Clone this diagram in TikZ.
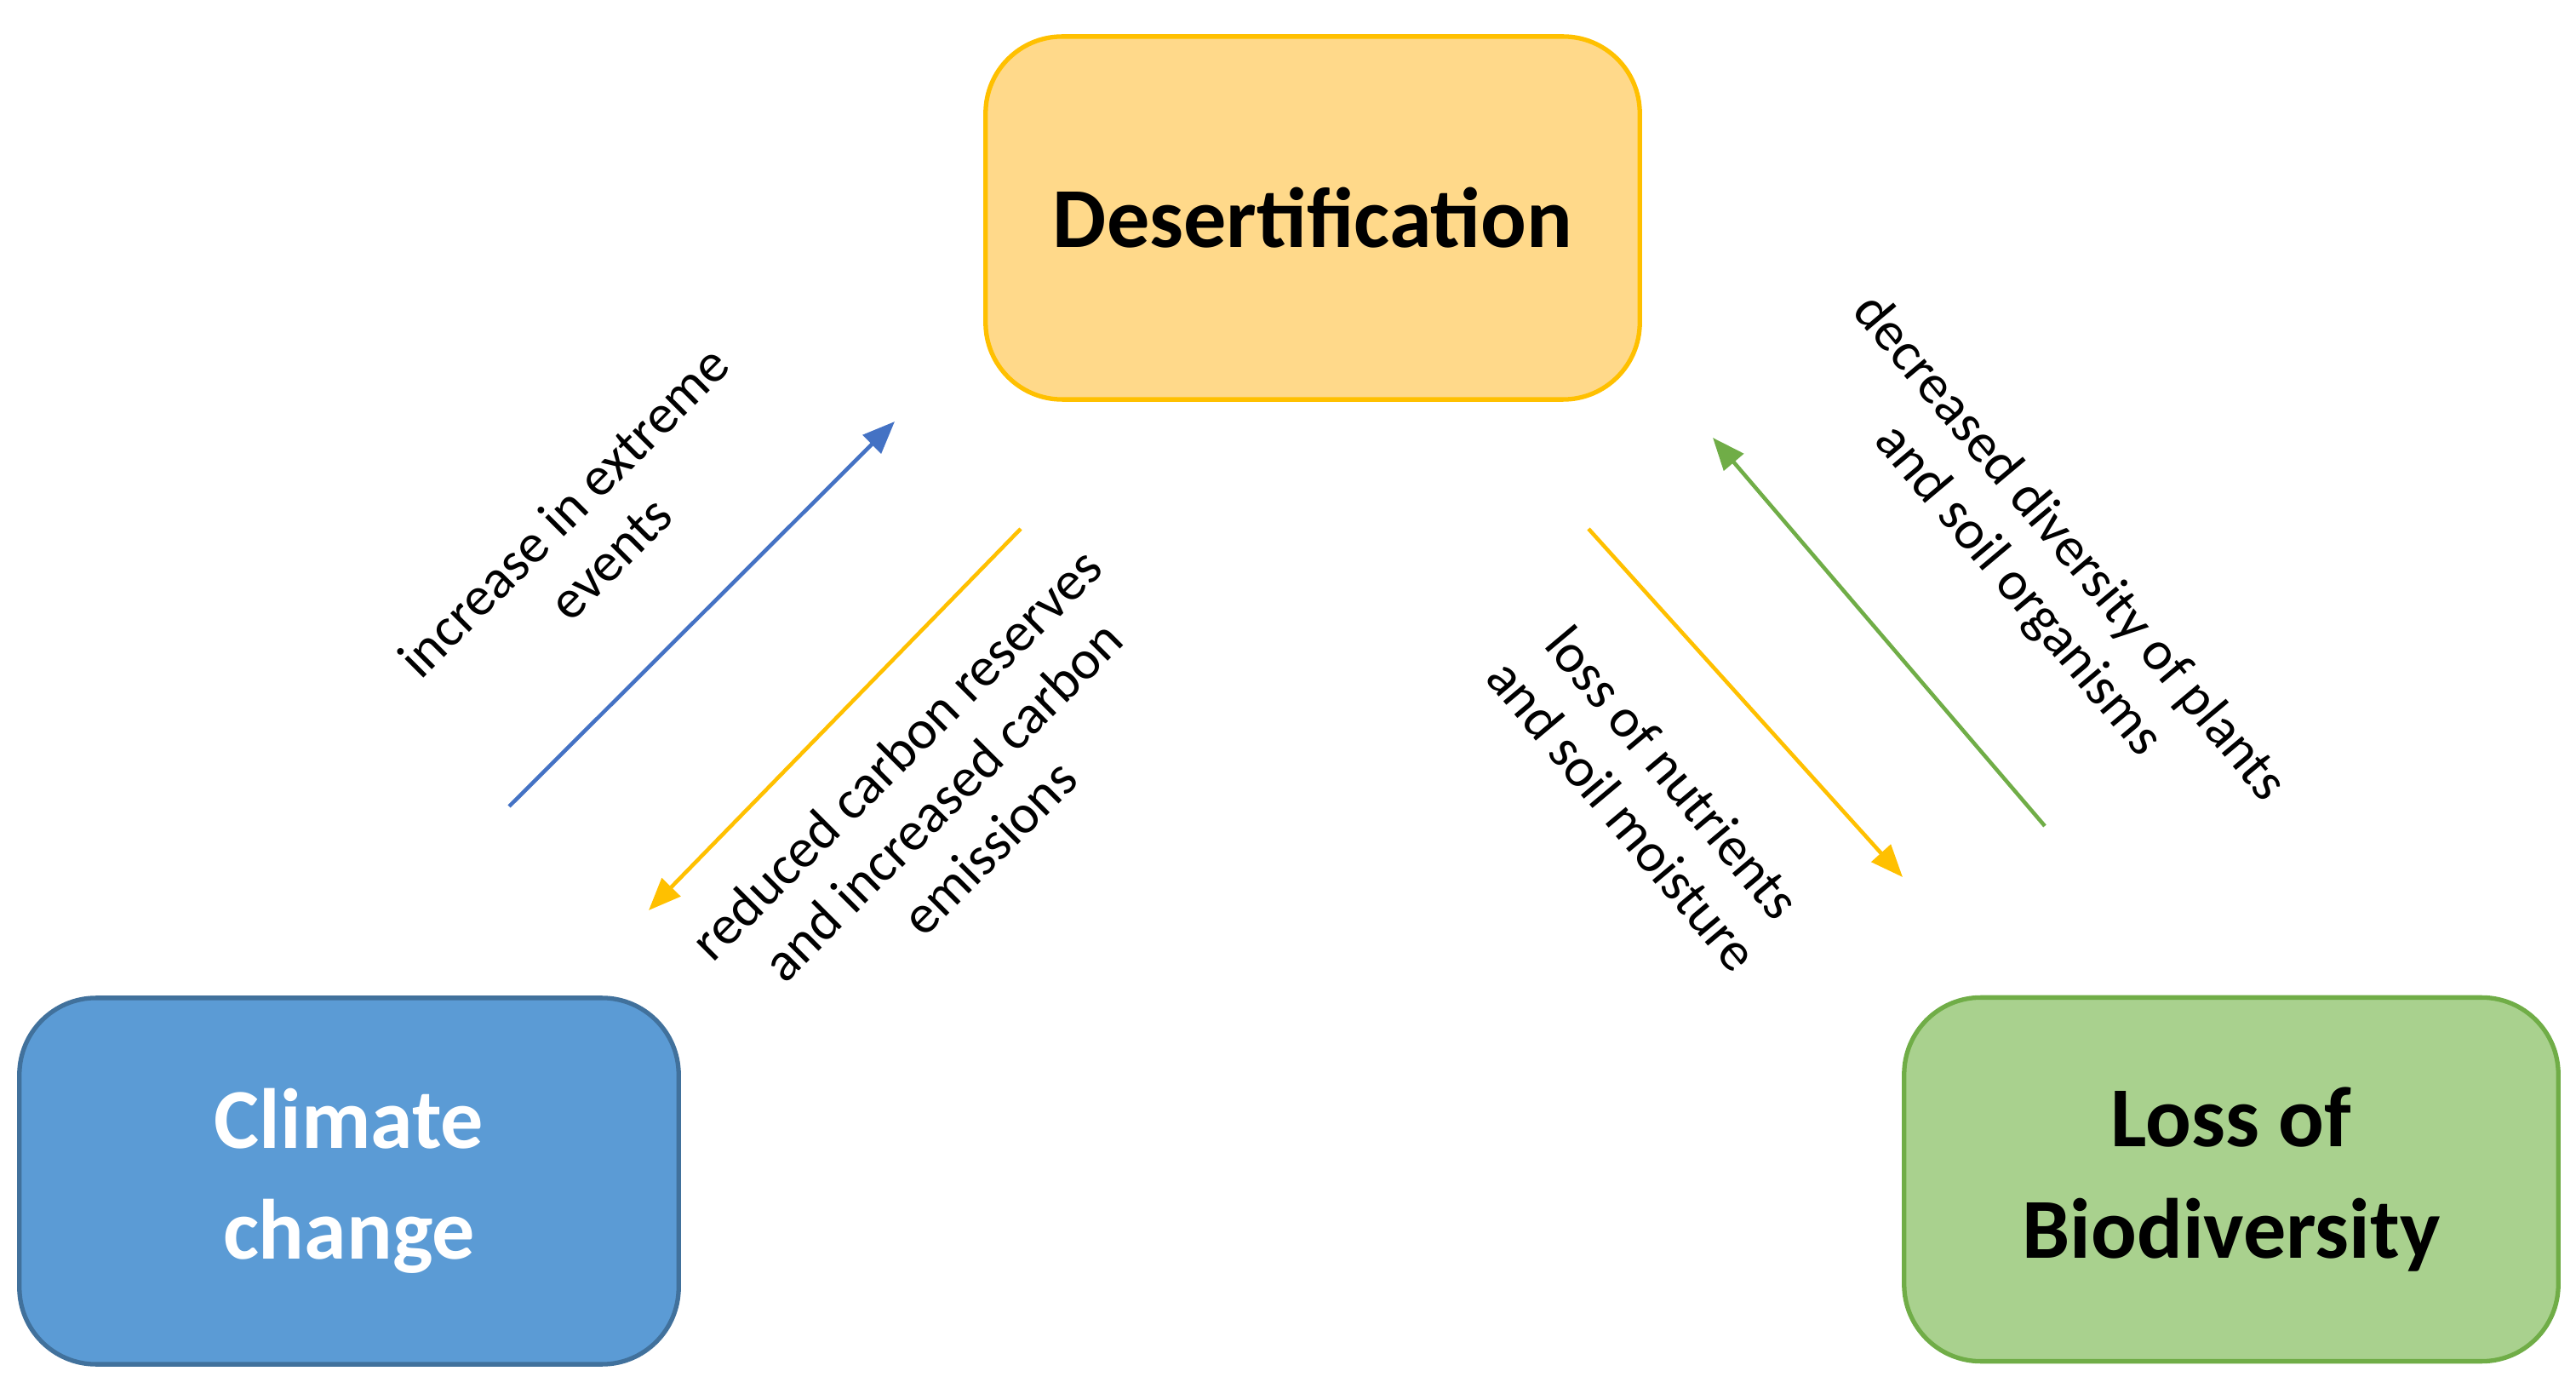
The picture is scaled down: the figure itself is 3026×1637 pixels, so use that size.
\documentclass[tikz,border=0pt]{standalone}
\usepackage{fontspec}
\setmainfont{Carlito}
\usetikzlibrary{arrows.meta}
\definecolor{ybox}{HTML}{FFD98A}
\definecolor{yline}{HTML}{FFC000}
\definecolor{bbox}{HTML}{5B9BD5}
\definecolor{bline}{HTML}{41719C}
\definecolor{gbox}{HTML}{A9D18E}
\definecolor{gline}{HTML}{70AD47}
\definecolor{barrow}{HTML}{4472C4}
\tikzset{
 box/.style={draw, line width=1.5pt, rounded corners=0.9cm, align=center, font=\fontsize{28.5}{37}\selectfont\bfseries},
 arr/.style={line width=1.3pt, -{Triangle[length=0.38cm,width=0.3cm]}},
 lab/.style={align=center, font=\fontsize{18.5}{22}\selectfont}
}
\begin{document}
\begin{tikzpicture}[x=0.01cm,y=-0.01cm]
\useasboundingbox (0,0) rectangle (3026,1637);
\node[box, fill=ybox, draw=yline, minimum width=7.68cm, minimum height=4.26cm] (d) at (1542,256) {Desertification};
\node[box, fill=bbox, draw=bline, text=white, minimum width=7.74cm, minimum height=4.3cm] (c) at (410,1387) {Climate\\change};
\node[box, fill=gbox, draw=gline, minimum width=7.68cm, minimum height=4.27cm] (l) at (2621,1385) {Loss of\\Biodiversity};
\coordinate (a1) at (598,947); \coordinate (a2) at (1051,495);
\coordinate (b1) at (1199,621); \coordinate (b2) at (762,1069);
\coordinate (c1) at (1866,621); \coordinate (c2) at (2235,1030);
\coordinate (d1) at (2402,970); \coordinate (d2) at (2012,514);
\draw[arr, draw=barrow, fill=barrow] (a1) -- (a2);
\draw[arr, draw=yline, fill=yline] (b1) -- (b2);
\draw[arr, draw=yline, fill=yline] (c1) -- (c2);
\draw[arr, draw=gline, fill=gline] (d1) -- (d2);
\node[lab, rotate=45] (t1) at (689,628) {increase in extreme\\events};
\node[lab, rotate=45] (t2) at (1107,940) {reduced carbon reserves\\and increased carbon\\emissions};
\node[lab, rotate=-50] (t3) at (1936,932) {loss of nutrients\\and soil moisture};
\node[lab, rotate=-50] (t4) at (2400,669) {decreased diversity of plants\\and soil organisms};
\end{tikzpicture}
\end{document}
